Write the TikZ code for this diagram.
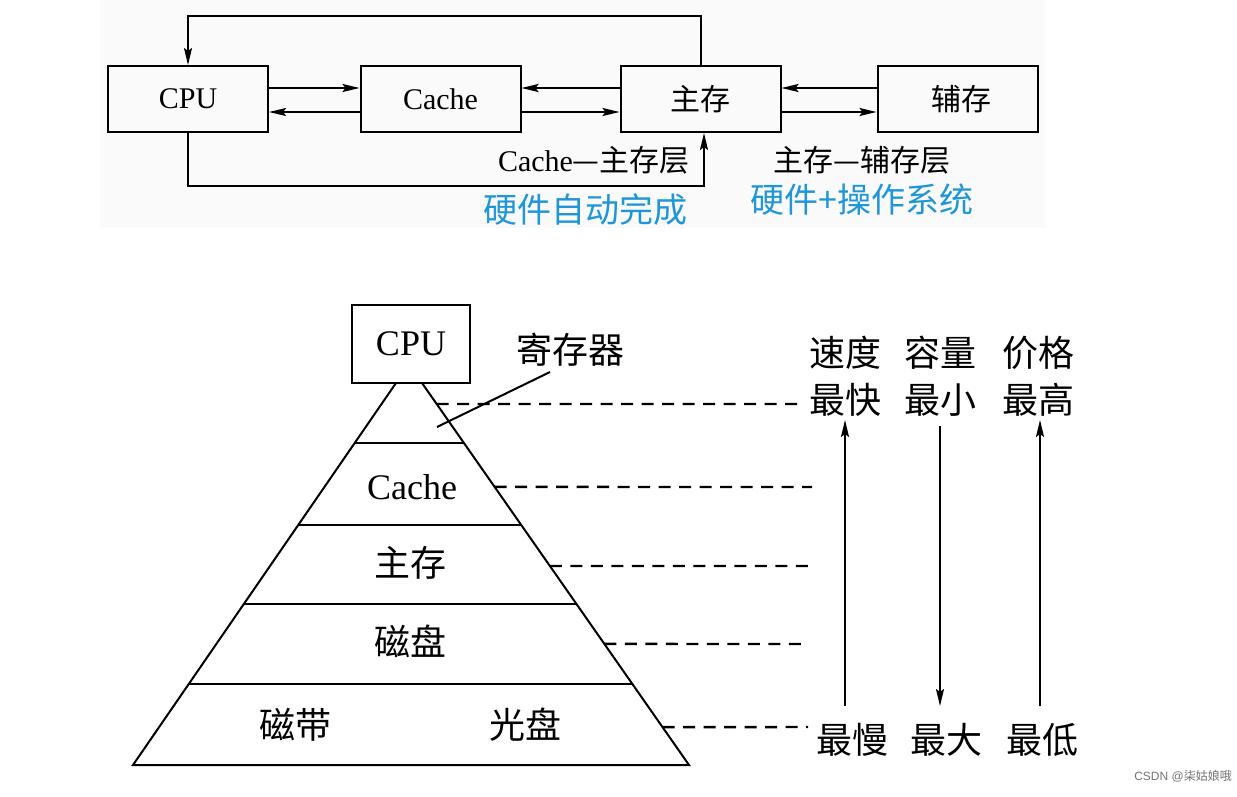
\documentclass[tikz,border=0pt]{standalone}
\usepackage{fontspec}
\setmainfont{Liberation Serif}
\newfontfamily\cjk{Noto Sans CJK SC}
\newfontfamily\wmsans{Liberation Sans}
\usetikzlibrary{arrows.meta,calc}
\definecolor{blueT}{RGB}{30,150,215}
\tikzset{
  x=1pt, y=-1pt,
  box/.style={draw, line width=2pt, minimum width=160pt, minimum height=66pt, inner sep=0pt, font=\fontsize{30}{36}\selectfont},
  arr/.style={line width=2pt, -{Stealth[length=17pt,width=8pt,inset=3pt]}},
  ln/.style={line width=2pt},
  dsh/.style={line width=2.4pt, dash pattern=on 12pt off 8.5pt},
  lbl/.style={inner sep=0pt, font=\fontsize{30}{34}\selectfont},
  bl/.style={inner sep=0pt, text=blueT, font=\fontsize{34}{40}\selectfont\cjk},
  big/.style={inner sep=0pt, font=\fontsize{36}{42}\selectfont},
  bigc/.style={inner sep=0pt, font=\fontsize{36}{42}\selectfont\cjk},
}
\begin{document}
\begin{tikzpicture}
\useasboundingbox (0,0) rectangle (1237,796);
\fill[black!2] (100,0) rectangle (1045,228);
% ---------- top part ----------
\node[box] (cpu) at (188,99) {CPU};
\node[box] (cache) at (440.5,99) {Cache};
\node[box] (zc) at (700.5,99) {\cjk 主存};
\node[box] (fc) at (957.5,99) {\hspace*{8pt}\cjk 辅存};
\draw[arr] ([yshift=11pt]cpu.east) -- ([yshift=11pt]cache.west);
\draw[arr] ([yshift=-13pt]cache.west) -- ([yshift=-13pt]cpu.east);
\draw[arr] ([yshift=11pt]zc.west) -- ([yshift=11pt]cache.east);
\draw[arr] ([yshift=-13pt]cache.east) -- ([yshift=-13pt]zc.west);
\draw[arr] ([yshift=11pt]fc.west) -- ([yshift=11pt]zc.east);
\draw[arr] ([yshift=-13pt]zc.east) -- ([yshift=-13pt]fc.west);
\coordinate (tl) at (188,16);
\coordinate (blc) at (704,186);
\draw[arr] (zc.north) |- (tl) -- (cpu.north);
\draw[arr] (cpu.south) |- (blc) -- (blc |- zc.south);
\node[lbl, anchor=east] (l1) at (690,160) {Cache{\cjk —主存层}};
\node[lbl] (l2) at (862,160) {\cjk 主存—辅存层};
\node[bl] (b1) at (585,210) {硬件自动完成};
\node[bl] (b2) at (862,200) {硬件+操作系统};
% ---------- pyramid ----------
\node[draw, line width=2pt, minimum width=118pt, minimum height=78pt, inner sep=0pt, font=\fontsize{36}{42}\selectfont] (pcpu) at (411,344) {CPU};
\coordinate (al) at (396,383);
\coordinate (ar) at (422,383);
\coordinate (pbl) at (133,765);
\coordinate (pbr) at (689,765);
\draw[ln, line join=miter] (al) -- (pbl) -- (pbr) -- (ar);
\foreach \t in {0.157,0.372,0.5785,0.788}
  \draw[ln] ($(al)!\t!(pbl)$) -- ($(ar)!\t!(pbr)$);
\node[big] (pcache) at (412,487) {Cache};
\node[bigc] (pzc) at (410,563) {主存};
\node[bigc] (pcp) at (410,641) {磁盘};
\node[bigc] (pcd) at (295,725) {磁带};
\node[bigc] (pgp) at (525,725) {光盘};
\node[bigc] (reg) at (570,350) {寄存器};
\coordinate (regp) at (437,427);
\draw[ln] (regp) -- (550,372);
% dashed lines
\draw[dsh] ($(ar)!0.055!(pbr)$) -- (802,404);
\draw[dsh] ($(ar)!0.272!(pbr)$) -- (812,487);
\draw[dsh] ($(ar)!0.479!(pbr)$) -- (810,566);
\draw[dsh] ($(ar)!0.683!(pbr)$) -- (806,644);
\draw[dsh] ($(ar)!0.901!(pbr)$) -- (808,727);
% right labels
\node[bigc] (h1) at (845,353) {速度};
\node[bigc] (h2) at (940,353) {容量};
\node[bigc] (h3) at (1038,353) {价格};
\node[bigc] (t1) at (845,400) {最快};
\node[bigc] (t2) at (940,400) {最小};
\node[bigc] (t3) at (1038,400) {最高};
\node[bigc] (u1) at (852,740) {最慢};
\node[bigc] (u2) at (946,740) {最大};
\node[bigc] (u3) at (1042,740) {最低};
\draw[arr] (845,706) -- (845,420);
\draw[arr] (940,426) -- (940,706);
\draw[arr] (1040,706) -- (1040,420);
% watermark
\node[inner sep=0pt, text=black!55, font=\fontsize{12}{14}\selectfont] (wm) at (1183,776) {\wmsans CSDN @{\cjk 柒姑娘哦}};
\end{tikzpicture}
\end{document}
